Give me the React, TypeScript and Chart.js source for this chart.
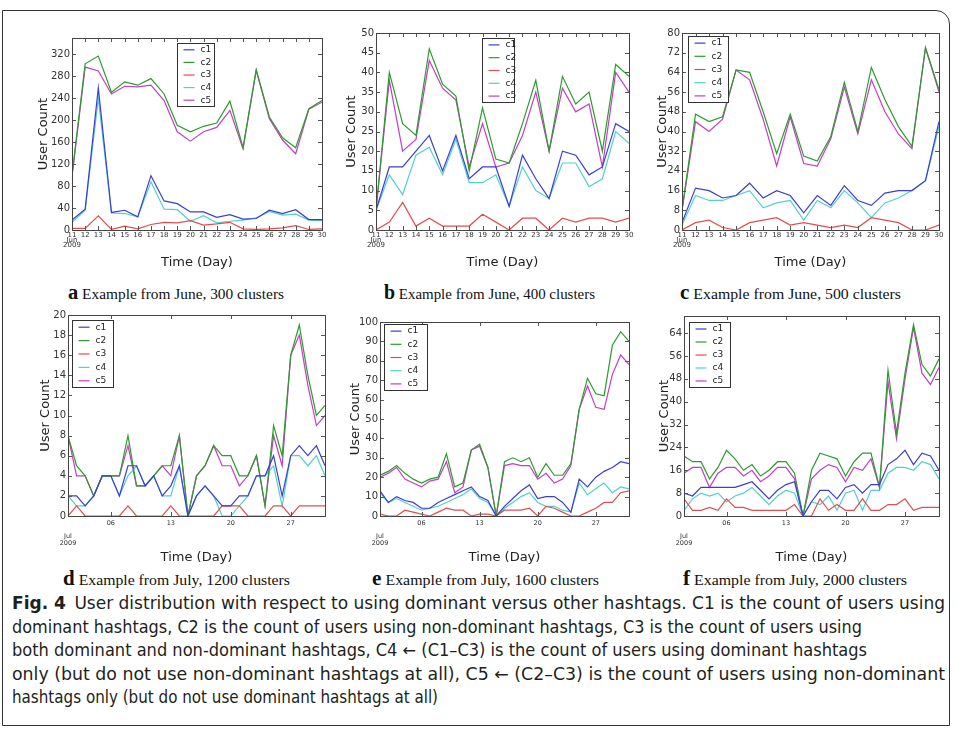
import React, { useEffect, useLayoutEffect, useRef } from 'react';
import { Chart, registerables } from 'chart.js';

Chart.register(...registerables);

// ---------- data ----------
const SERIES_NAMES = ['c1', 'c2', 'c3', 'c4', 'c5'];
const SERIES_COLORS = ['#3d3dd2', '#2f9a2f', '#e04f4f', '#52d0d0', '#c23fc2'];

const JUNE_DAYS = [11, 12, 13, 14, 15, 16, 17, 18, 19, 20, 21, 22, 23, 24, 25, 26, 27, 28, 29, 30];
const JULY_DAYS = [1, 2, 3, 4, 5, 6, 7, 8, 9, 10, 11, 12, 13, 14, 15, 16, 17, 18, 19, 20, 21, 22, 23, 24, 25, 26, 27, 28, 29, 30, 31];

const JUNE_TICKS = [11, 12, 13, 14, 15, 16, 17, 18, 19, 20, 21, 22, 23, 24, 25, 26, 27, 28, 29, 30];
const JUNE_TICK_LABELS: (string | string[])[] = [['11', 'Jun', '2009'], '12', '13', '14', '15', '16', '17', '18', '19', '20', '21', '22', '23', '24', '25', '26', '27', '28', '29', '30'];
const JULY_TICKS = [1, 6, 13, 20, 27];
const JULY_TICK_LABELS: (string | string[])[] = [['', '', 'Jul', '2009'], '06', '13', '20', '27'];

const A_Y_TICKS = [0, 40, 80, 120, 160, 200, 240, 280, 320];
const B_Y_TICKS = [0, 5, 10, 15, 20, 25, 30, 35, 40, 45, 50];
const C_Y_TICKS = [0, 8, 16, 24, 32, 40, 48, 56, 64, 72, 80];
const D_Y_TICKS = [0, 2, 4, 6, 8, 10, 12, 14, 16, 18, 20];
const E_Y_TICKS = [0, 10, 20, 30, 40, 50, 60, 70, 80, 90, 100];
const F_Y_TICKS = [0, 8, 16, 24, 32, 40, 48, 56, 64];

// (a) June, 300 clusters
const A_C1 = [18, 38, 259, 32, 36, 24, 99, 53, 48, 33, 33, 23, 28, 20, 21, 36, 30, 37, 19, 19];
const A_C2 = [100, 303, 317, 251, 270, 264, 276, 248, 191, 179, 189, 195, 235, 150, 292, 206, 168, 150, 221, 236];
const A_C3 = [3, 3, 26, 1, 7, 2, 10, 14, 13, 17, 9, 11, 14, 2, 1, 2, 4, 8, 1, 2];
const A_C4 = [14, 36, 240, 31, 30, 24, 88, 38, 37, 16, 26, 13, 16, 18, 22, 34, 27, 29, 18, 17];
const A_C5 = [97, 297, 290, 248, 262, 261, 264, 236, 179, 162, 179, 187, 218, 148, 291, 203, 164, 139, 220, 233];

// (b) June, 400 clusters
const B_C1 = [5, 16, 16, 20, 24, 15, 24, 13, 16, 16, 6, 19, 13, 8, 20, 19, 14, 16, 27, 25];
const B_C2 = [5, 40, 27, 24, 46, 37, 34, 15, 31, 18, 17, 27, 38, 20, 39, 32, 35, 20, 42, 39];
const B_C3 = [0, 2, 7, 1, 3, 1, 1, 1, 4, 2, 0, 3, 3, 0, 3, 2, 3, 3, 2, 3];
const B_C4 = [5, 14, 9, 19, 21, 14, 23, 12, 12, 14, 6, 16, 10, 8, 17, 17, 11, 13, 25, 22];
const B_C5 = [5, 38, 20, 23, 43, 36, 33, 16, 27, 16, 17, 24, 35, 20, 36, 30, 32, 16, 40, 35];

// (c) June, 500 clusters
const C_C1 = [3, 17, 16, 13, 14, 19, 13, 16, 14, 7, 14, 10, 18, 12, 10, 15, 16, 16, 20, 44];
const C_C2 = [8, 47, 44, 46, 65, 64, 48, 31, 47, 30, 28, 38, 60, 40, 66, 53, 42, 34, 74, 57];
const C_C3 = [0, 3, 4, 1, 0, 3, 4, 5, 2, 3, 2, 1, 2, 1, 5, 4, 3, 0, 0, 2];
const C_C4 = [2, 14, 12, 12, 14, 16, 9, 11, 12, 4, 12, 9, 16, 11, 5, 11, 13, 16, 20, 42];
const C_C5 = [8, 44, 40, 45, 65, 61, 45, 26, 46, 27, 26, 37, 58, 39, 61, 48, 39, 33, 74, 56];

// (d) July, 1200 clusters
const D_C1 = [2, 2, 1, 2, 4, 4, 2, 5, 5, 3, 4, 2, 3, 5, 0, 2, 3, 2, 1, 1, 2, 2, 4, 4, 6, 2, 6, 7, 6, 7, 5];
const D_C2 = [8, 5, 4, 2, 4, 4, 4, 8, 3, 3, 4, 5, 5, 8, 0, 4, 5, 7, 6, 6, 4, 4, 6, 1, 9, 6, 16, 19, 14, 10, 11];
const D_C3 = [0, 1, 0, 0, 0, 0, 0, 1, 0, 0, 0, 0, 1, 0, 0, 0, 0, 0, 1, 1, 1, 0, 0, 0, 1, 1, 0, 1, 1, 1, 1];
const D_C4 = [2, 1, 1, 2, 4, 4, 2, 4, 5, 3, 4, 2, 2, 5, 0, 2, 3, 2, 0, 0, 1, 2, 4, 4, 5, 1, 6, 6, 5, 6, 4];
const D_C5 = [8, 4, 4, 2, 4, 4, 4, 7, 3, 3, 4, 5, 4, 8, 0, 4, 5, 7, 5, 5, 3, 4, 6, 1, 8, 5, 16, 18, 13, 9, 10];

// (e) July, 1600 clusters
const E_C1 = [13, 7, 10, 8, 7, 4, 4, 7, 9, 11, 13, 15, 10, 8, 0, 5, 9, 13, 16, 9, 10, 10, 7, 2, 19, 15, 20, 23, 25, 28, 27];
const E_C2 = [21, 23, 26, 22, 19, 17, 19, 20, 32, 15, 17, 34, 37, 25, 0, 28, 30, 28, 30, 20, 27, 21, 21, 27, 55, 71, 63, 62, 88, 95, 90];
const E_C3 = [1, 0, 0, 3, 2, 1, 0, 2, 4, 3, 3, 0, 1, 1, 0, 3, 3, 3, 4, 0, 5, 4, 2, 0, 0, 2, 4, 7, 7, 12, 13];
const E_C4 = [12, 7, 9, 7, 5, 3, 4, 5, 7, 9, 11, 14, 9, 7, 0, 4, 7, 10, 12, 7, 5, 5, 3, 2, 17, 11, 14, 17, 12, 15, 14];
const E_C5 = [20, 22, 25, 19, 17, 15, 18, 19, 28, 12, 15, 34, 36, 25, 0, 26, 27, 26, 26, 19, 22, 17, 19, 26, 55, 67, 56, 55, 73, 83, 78];

// (f) July, 2000 clusters
const F_C1 = [8, 7, 10, 10, 10, 10, 10, 11, 12, 9, 6, 9, 11, 12, 0, 5, 9, 9, 6, 10, 11, 8, 11, 11, 18, 20, 23, 18, 22, 21, 16];
const F_C2 = [21, 19, 19, 13, 17, 23, 20, 16, 18, 14, 16, 19, 19, 15, 0, 16, 22, 21, 20, 14, 19, 22, 22, 10, 51, 29, 50, 67, 53, 49, 55];
const F_C3 = [6, 2, 2, 3, 2, 6, 3, 3, 2, 2, 2, 2, 2, 4, 0, 0, 6, 2, 4, 2, 2, 6, 2, 2, 4, 4, 6, 2, 3, 3, 3];
const F_C4 = [2, 6, 8, 7, 8, 5, 7, 8, 10, 7, 4, 7, 9, 8, 0, 5, 4, 7, 2, 8, 9, 2, 9, 9, 15, 17, 17, 16, 19, 18, 13];
const F_C5 = [15, 17, 17, 10, 15, 17, 17, 14, 16, 12, 14, 17, 17, 13, 0, 13, 16, 18, 17, 12, 17, 16, 20, 10, 47, 27, 48, 66, 50, 46, 52];

const SUB_LETTERS = ['a', 'b', 'c', 'd', 'e', 'f'];
const SUB_TEXTS = [
  'Example from June, 300 clusters',
  'Example from June, 400 clusters',
  'Example from June, 500 clusters',
  'Example from July, 1200 clusters',
  'Example from July, 1600 clusters',
  'Example from July, 2000 clusters',
];

const CAPTION_LABEL = 'Fig. 4';
const CAPTION_LINES = [
  'User distribution with respect to using dominant versus other hashtags. C1 is the count of users using',
  'dominant hashtags, C2 is the count of users using non-dominant hashtags, C3 is the count of users using',
  'both dominant and non-dominant hashtags, C4 \u2190 (C1\u2013C3) is the count of users using dominant hashtags',
  'only (but do not use non-dominant hashtags at all), C5 \u2190 (C2\u2013C3) is the count of users using non-dominant',
  'hashtags only (but do not use dominant hashtags at all)',
];

// ---------- layout ----------
const FONT = 'DejaVu Sans';
const PT = 10;
const PR = 12;

type Box = { x: number; y: number; w: number; h: number };
type PanelCfg = {
  left: number; top: number; right: number; bottom: number;
  yW: number; xH: number;
  days: number[]; series: number[][];
  yMax: number; yTicks: number[];
  xTicks: number[]; xLabels: (string | string[])[];
  june: boolean;
  legend: Box;
};

const PANELS: PanelCfg[] = [
  { left: 72, top: 38, right: 322, bottom: 230, yW: 40, xH: 40, days: JUNE_DAYS, series: [A_C1, A_C2, A_C3, A_C4, A_C5], yMax: 350, yTicks: A_Y_TICKS, xTicks: JUNE_TICKS, xLabels: JUNE_TICK_LABELS, june: true, legend: { x: 105, y: 5, w: 37, h: 63 } },
  { left: 376, top: 33, right: 629, bottom: 230, yW: 36, xH: 40, days: JUNE_DAYS, series: [B_C1, B_C2, B_C3, B_C4, B_C5], yMax: 50, yTicks: B_Y_TICKS, xTicks: JUNE_TICKS, xLabels: JUNE_TICK_LABELS, june: true, legend: { x: 106, y: 5, w: 32, h: 64 } },
  { left: 682, top: 33, right: 939, bottom: 230, yW: 31, xH: 40, days: JUNE_DAYS, series: [C_C1, C_C2, C_C3, C_C4, C_C5], yMax: 80, yTicks: C_Y_TICKS, xTicks: JUNE_TICKS, xLabels: JUNE_TICK_LABELS, june: true, legend: { x: 6, y: 3, w: 40, h: 66 } },
  { left: 68, top: 315, right: 325, bottom: 516, yW: 34, xH: 49, days: JULY_DAYS, series: [D_C1, D_C2, D_C3, D_C4, D_C5], yMax: 20, yTicks: D_Y_TICKS, xTicks: JULY_TICKS, xLabels: JULY_TICK_LABELS, june: false, legend: { x: 4, y: 5, w: 41, h: 67 } },
  { left: 380, top: 322, right: 629, bottom: 516, yW: 36, xH: 49, days: JULY_DAYS, series: [E_C1, E_C2, E_C3, E_C4, E_C5], yMax: 100, yTicks: E_Y_TICKS, xTicks: JULY_TICKS, xLabels: JULY_TICK_LABELS, june: false, legend: { x: 4, y: 2, w: 43, h: 66 } },
  { left: 684, top: 316, right: 939, bottom: 516, yW: 31, xH: 49, days: JULY_DAYS, series: [F_C1, F_C2, F_C3, F_C4, F_C5], yMax: 70, yTicks: F_Y_TICKS, xTicks: JULY_TICKS, xLabels: JULY_TICK_LABELS, june: false, legend: { x: 5, y: 6, w: 41, h: 65 } },
];

const SUB_POS = [
  { left: 68, width: 216, cy: 292 },
  { left: 384, width: 211, cy: 292 },
  { left: 680, width: 221, cy: 292 },
  { left: 63, width: 227, cy: 578 },
  { left: 372, width: 227, cy: 578 },
  { left: 683, width: 224, cy: 578 },
];
const CAPTION_ENDS = [945, 862, 867, 945, 438];
const CAPTION_CY = [603, 627, 650, 674, 697];

function decorPlugin(legend: Box) {
  return {
    id: 'decor',
    afterDatasetsDraw(chart: any) {
      const { ctx, chartArea: a, scales } = chart;
      const x = scales.x;
      const y = scales.y;
      ctx.save();
      ctx.strokeStyle = '#555';
      ctx.lineWidth = 1;
      ctx.beginPath();
      for (const t of y.ticks) {
        const py = Math.round(y.getPixelForValue(t.value)) + 0.5;
        ctx.moveTo(a.left, py); ctx.lineTo(a.left + 4, py);
        ctx.moveTo(a.right, py); ctx.lineTo(a.right - 4, py);
      }
      for (const t of x.ticks) {
        const px = Math.round(x.getPixelForValue(t.value)) + 0.5;
        ctx.moveTo(px, a.bottom); ctx.lineTo(px, a.bottom - 4);
        ctx.moveTo(px, a.top); ctx.lineTo(px, a.top + 4);
      }
      ctx.stroke();
      ctx.strokeStyle = '#444';
      ctx.strokeRect(Math.round(a.left) + 0.5, Math.round(a.top) + 0.5, Math.round(a.width), Math.round(a.height));

      // legend box
      const lx = Math.round(a.left + legend.x) + 0.5;
      const ly = Math.round(a.top + legend.y) + 0.5;
      ctx.fillStyle = '#fff';
      ctx.fillRect(lx, ly, legend.w, legend.h);
      ctx.strokeStyle = '#333';
      ctx.strokeRect(lx, ly, legend.w, legend.h);
      ctx.font = `9px "${FONT}"`;
      ctx.textBaseline = 'middle';
      ctx.textAlign = 'left';
      chart.data.datasets.forEach((ds: any, i: number) => {
        const cy = ly + (legend.h * (i + 0.5)) / 5;
        ctx.strokeStyle = ds.borderColor;
        ctx.lineWidth = 1.2;
        ctx.beginPath();
        ctx.moveTo(lx + 6, cy);
        ctx.lineTo(lx + 17, cy);
        ctx.stroke();
        ctx.fillStyle = '#222';
        ctx.fillText(ds.label, lx + 23, cy);
      });
      ctx.restore();
    },
  };
}

function Panel({ cfg }: { cfg: PanelCfg }) {
  const ref = useRef<HTMLCanvasElement>(null);
  const plotW = cfg.right - cfg.left;
  const plotH = cfg.bottom - cfg.top;
  const cw = cfg.yW + plotW + PR;
  const ch = PT + plotH + cfg.xH;

  useEffect(() => {
    const canvas = ref.current;
    if (!canvas) return;
    const chart = new Chart(canvas, {
      type: 'line',
      data: {
        datasets: cfg.series.map((vals, i) => ({
          label: SERIES_NAMES[i],
          data: vals.map((v, j) => ({ x: cfg.days[j], y: v })),
          borderColor: SERIES_COLORS[i],
          backgroundColor: SERIES_COLORS[i],
          borderWidth: 1.2,
          pointRadius: 0,
          fill: false,
          tension: 0,
        })),
      },
      options: {
        animation: false,
        responsive: false,
        events: [],
        layout: { padding: { top: PT, right: PR, left: 0, bottom: 0 } },
        plugins: { legend: { display: false }, tooltip: { enabled: false } },
        scales: {
          x: {
            type: 'linear',
            min: cfg.days[0],
            max: cfg.days[cfg.days.length - 1],
            grid: { display: false, drawTicks: false, tickLength: 0 },
            border: { display: false },
            afterBuildTicks: (s: any) => { s.ticks = cfg.xTicks.map((v) => ({ value: v })); },
            afterFit: (s: any) => { s.height = cfg.xH; },
            ticks: {
              autoSkip: false,
              maxRotation: 0,
              minRotation: 0,
              padding: cfg.june ? 2.5 : 4.3,
              color: '#333',
              font: cfg.june ? { family: FONT, size: 7, lineHeight: '5px' } : { family: FONT, size: 6.5, lineHeight: '6.5px' },
              callback: (v: any) => {
                const k = cfg.xTicks.indexOf(Number(v));
                return k >= 0 ? cfg.xLabels[k] : '';
              },
            },
            title: { display: true, text: 'Time (Day)', color: '#222', font: { family: FONT, size: 13 }, padding: { top: 0, bottom: 0 } },
          },
          y: {
            type: 'linear',
            min: 0,
            max: cfg.yMax,
            grid: { display: false, drawTicks: false, tickLength: 0 },
            border: { display: false },
            afterBuildTicks: (s: any) => { s.ticks = cfg.yTicks.map((v) => ({ value: v })); },
            afterFit: (s: any) => { s.width = cfg.yW; },
            ticks: { padding: 2, color: '#333', font: { family: FONT, size: 10 }, callback: (v: any) => String(v) },
            title: { display: true, text: 'User Count', color: '#222', font: { family: FONT, size: 13 }, padding: { top: 4, bottom: 0 } },
          },
        },
      } as any,
      plugins: [decorPlugin(cfg.legend)],
    });
    return () => chart.destroy();
  }, []);

  return (
    <canvas
      ref={ref}
      width={cw}
      height={ch}
      style={{ position: 'absolute', left: cfg.left - cfg.yW, top: cfg.top - PT, width: cw, height: ch }}
    />
  );
}

function FitText({ left, top, width, lineHeight, style, children }: any) {
  const ref = useRef<HTMLDivElement>(null);
  useLayoutEffect(() => {
    const el = ref.current;
    if (!el) return;
    el.style.transform = 'none';
    const w = el.getBoundingClientRect().width;
    if (w > 0) el.style.transform = `scaleX(${width / w})`;
  });
  return (
    <div
      ref={ref}
      style={{
        position: 'absolute', left, top, whiteSpace: 'nowrap', display: 'inline-block',
        transformOrigin: '0 50%', lineHeight: lineHeight + 'px', ...style,
      }}
    >
      {children}
    </div>
  );
}

const SERIF = '"Liberation Serif", "Times New Roman", serif';
const CAPTION_FONT = '"Liberation Sans Narrow", "DejaVu Sans Condensed", Roboto, "Liberation Sans", sans-serif';

export default function App() {
  return (
    <div style={{ position: 'absolute', left: 0, top: 0, width: 958, height: 733, background: '#fff', overflow: 'hidden' }}>
      <div
        style={{
          position: 'absolute', left: 2, top: 10, width: 948, height: 716, boxSizing: 'border-box',
          border: '1.5px solid #333', borderTopRightRadius: 14,
        }}
      />
      {PANELS.map((p, i) => (
        <Panel key={i} cfg={p} />
      ))}
      {SUB_POS.map((s, i) => (
        <FitText key={'s' + i} left={s.left} top={s.cy - 11} width={s.width} lineHeight={22} style={{ fontFamily: SERIF, fontSize: 15, color: '#111' }}>
          <span style={{ fontWeight: 'bold', fontSize: 20 }}>{SUB_LETTERS[i]}</span>
          {'  '}
          {SUB_TEXTS[i]}
        </FitText>
      ))}
      {CAPTION_LINES.map((line, i) => (
        <FitText key={'c' + i} left={12} top={CAPTION_CY[i] - 11.5} width={CAPTION_ENDS[i] - 12} lineHeight={23} style={{ fontFamily: CAPTION_FONT, fontSize: 17, color: '#231f20' }}>
          {i === 0 ? <span style={{ fontWeight: 'bold' }}>{CAPTION_LABEL}</span> : null}
          {i === 0 ? '\u2002' : ''}
          {line}
        </FitText>
      ))}
    </div>
  );
}
